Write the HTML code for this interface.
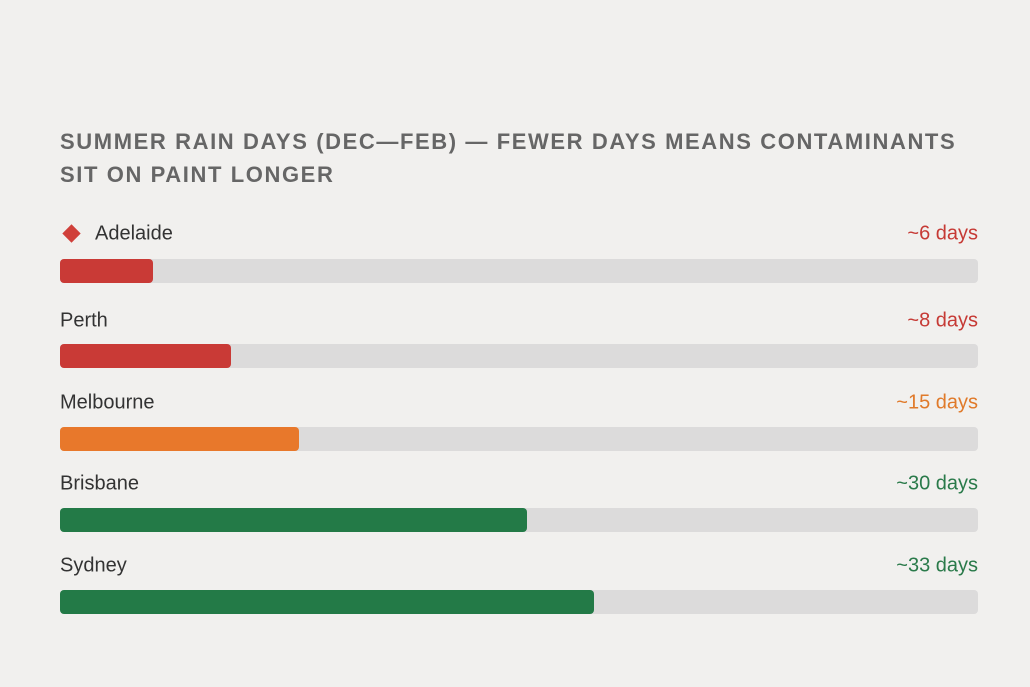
<!DOCTYPE html>
<html><head><style>
body{margin:0;width:1030px;height:687px;background:#f1f0ee;font-family:"Liberation Sans",sans-serif;position:relative;overflow:hidden}
.t{position:absolute;left:60px;font-size:22px;font-weight:bold;color:#666;letter-spacing:1.6px;white-space:nowrap}
.l{position:absolute;left:60px;font-size:20px;color:#333;transform:translateY(-50%)}
.v{position:absolute;right:52px;font-size:20px;transform:translateY(-50%)}
.tr{position:absolute;left:60px;width:918px;height:24px;background:#dcdbdb;border-radius:4px}
.b{position:absolute;left:0;top:0;height:24px;border-radius:4px}
</style></head><body>
<div class="t" style="top:129px">SUMMER RAIN DAYS (DEC—FEB) — FEWER DAYS MEANS CONTAMINANTS</div>
<div class="t" style="top:162px">SIT ON PAINT LONGER</div>

<div style="position:absolute;left:65px;top:227px;width:13px;height:13px;background:#d0403a;transform:rotate(45deg)"></div>
<div class="l" style="top:234px;left:95px">Adelaide</div><div class="v" style="top:234px;color:#c63a35">~6 days</div>
<div class="tr" style="top:259px"><div class="b" style="width:93px;background:#c93a36"></div></div>

<div class="l" style="top:321px">Perth</div><div class="v" style="top:321px;color:#c63a35">~8 days</div>
<div class="tr" style="top:344px"><div class="b" style="width:171px;background:#c93a36"></div></div>

<div class="l" style="top:403px">Melbourne</div><div class="v" style="top:403px;color:#e07a2a">~15 days</div>
<div class="tr" style="top:427px"><div class="b" style="width:239px;background:#e8782b"></div></div>

<div class="l" style="top:484px">Brisbane</div><div class="v" style="top:484px;color:#2a7a4a">~30 days</div>
<div class="tr" style="top:508px"><div class="b" style="width:467px;background:#237a47"></div></div>

<div class="l" style="top:566px">Sydney</div><div class="v" style="top:566px;color:#2a7a4a">~33 days</div>
<div class="tr" style="top:590px"><div class="b" style="width:534px;background:#237a47"></div></div>
</body></html>
